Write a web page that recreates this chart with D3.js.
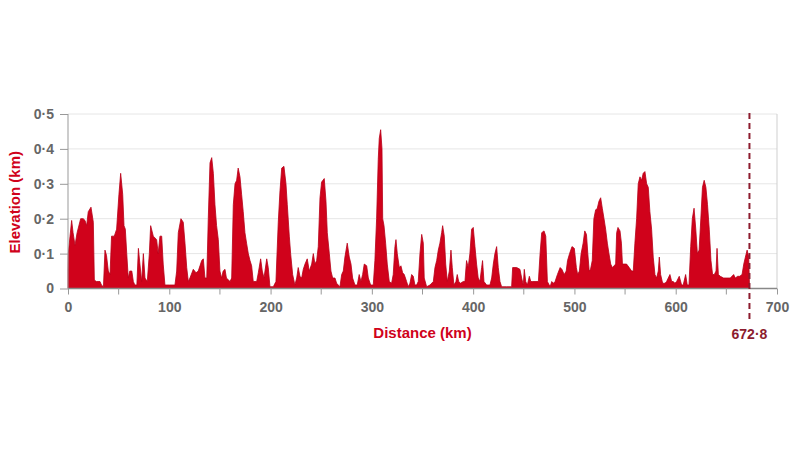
<!DOCTYPE html>
<html><head><meta charset="utf-8">
<script src="https://cdn.jsdelivr.net/npm/d3@7"></script>
<style>
html,body{margin:0;padding:0;background:#fff;}
text{font-family:"Liberation Sans",Arial,sans-serif;}
</style></head>
<body><svg id="c" width="800" height="450"></svg>
<script>
const distanceKm = [0,0.3,2,3.6,5,6.9,9,12.5,15,16.8,18.4,20,22.7,25,26,28,31.6,33,35,36.5,38,39.8,41.5,43,45.7,48,50.3,52,54,55.3,56.6,58,59.5,61,63,64.5,66,68,69.5,71,72.7,74.4,76,78.3,80.3,81.6,84.2,87.5,89,90.8,92.5,94,95.7,100,105.6,107.3,108.9,111.5,113.8,115.5,117.2,118.8,120.4,123.7,126.4,128.6,130.3,132,133.6,135.2,137,138.5,140.2,141.9,143.5,145.1,146.7,148.4,150,151.6,153.2,155,156.4,160,161.6,163.2,164.9,166.5,168,169.8,171.4,173,174.7,176.3,178,179.7,181.3,182.9,186.3,187.9,190.2,191.8,193.5,196.2,197.7,199.4,202.7,205.3,207.6,209.3,211,213.2,215.2,216.5,218.5,219.8,221.8,224,225.8,227.3,229,230.7,232.3,234,236.2,238.2,240.6,242.2,243.8,245.5,247.1,248.8,250.4,253,254.7,256,258,259.6,261.3,263.6,265.2,268.5,270.2,271.8,273.4,275.7,277.7,279.4,281,283.3,285.6,287.5,289.2,290.9,292.5,294.9,296.5,298.8,301.4,303,304.7,306.3,307.3,308.7,310,310.7,312,313.6,315.2,317.2,319.5,321.1,322.8,323.8,325.1,327.1,328.7,330.4,332,334.3,335.9,337.6,339.3,340.9,342.5,344.2,345.8,347.5,349.2,350.8,351.7,354.1,357.4,360.7,362.3,364,365.6,367.2,368.9,369.9,371.5,372.9,374.5,376.5,378.1,379.4,381,383,384.3,385.7,387.6,390.2,391.9,393.5,395.1,396.8,398.5,400.1,401.8,403.4,405,406.7,408.4,409.3,410.7,413.3,416.6,418.3,419.9,421.5,423.2,424.8,426.5,428.1,433,438,439,443,446.2,447.9,449.5,450.5,451.9,453.5,455.5,456.9,458.8,461.1,464.4,466.1,467.7,470,471.7,473.3,476,477.6,479.3,480.9,483.2,485.9,487.6,489.9,491.9,493.2,495.2,497.6,499.9,501.9,503.2,504.9,506.6,508.6,510.2,511.9,513.2,514.6,515.9,517.6,519.2,520.9,522.6,524.2,525.9,527.5,529.2,530.8,532.5,534.1,535.8,537.4,539.1,540.7,541.7,543,545,546.4,547.4,549,551.5,554.1,556.5,558.1,559.7,561.4,563,564.7,566.3,567.9,569.6,571.3,572.9,574.5,576.2,577.8,579.5,581.1,582.8,583.8,585.1,587.1,589.4,591,594.3,596,597.6,599.2,600.9,603.5,605.8,607.4,609.8,611.4,613.1,614.8,616.4,618.1,619.8,621.4,623.1,624.8,626.4,628.1,629.8,631.4,633.1,634.8,636.4,638.1,639.8,640.8,642.1,644,647.3,650.6,653.9,657.2,658.8,661.2,663.2,665.5,667.2,668.8,670.5,672.1,672.8];
const elevationKm = [0.05,0.1,0.15,0.195,0.16,0.124,0.16,0.2,0.2,0.195,0.18,0.22,0.233,0.19,0.024,0.02,0.02,0.01,0.005,0.11,0.095,0.05,0.04,0.15,0.15,0.17,0.27,0.33,0.27,0.18,0.17,0.1,0.03,0.05,0.05,0.02,0.01,0.01,0.115,0.07,0.02,0.1,0.03,0.02,0.1,0.18,0.15,0.14,0.1,0.15,0.15,0.07,0.01,0.01,0.01,0.05,0.16,0.2,0.19,0.13,0.06,0.02,0.03,0.055,0.045,0.05,0.065,0.08,0.085,0.03,0.03,0.2,0.36,0.375,0.33,0.24,0.18,0.14,0.05,0.03,0.05,0.055,0.03,0.02,0.03,0.24,0.3,0.31,0.345,0.32,0.27,0.22,0.16,0.13,0.1,0.08,0.065,0.02,0.02,0.045,0.085,0.05,0.03,0.085,0.06,0.005,0.005,0.02,0.19,0.28,0.345,0.35,0.3,0.24,0.15,0.1,0.04,0.01,0.03,0.06,0.035,0.03,0.055,0.07,0.085,0.05,0.07,0.1,0.07,0.08,0.12,0.26,0.305,0.315,0.25,0.16,0.1,0.05,0.03,0.03,0.015,0.005,0.04,0.05,0.09,0.13,0.09,0.07,0.03,0.01,0.01,0.04,0.02,0.04,0.07,0.065,0.03,0.01,0.01,0.08,0.2,0.37,0.43,0.455,0.4,0.2,0.18,0.13,0.07,0.02,0.015,0.04,0.12,0.14,0.1,0.06,0.065,0.045,0.04,0.02,0.005,0.015,0.04,0.035,0.01,0.01,0.02,0.1,0.155,0.13,0.03,0.005,0.01,0.02,0.06,0.08,0.11,0.13,0.16,0.18,0.15,0.07,0.02,0.05,0.11,0.06,0.01,0.02,0.04,0.02,0.015,0.02,0.02,0.08,0.06,0.1,0.17,0.175,0.12,0.07,0.03,0.02,0.06,0.08,0.02,0.01,0.01,0.03,0.07,0.1,0.12,0.06,0.02,0.005,0.005,0.005,0.06,0.06,0.055,0.03,0.01,0.055,0.02,0.01,0.035,0.02,0.02,0.02,0.02,0.1,0.16,0.165,0.15,0.02,0.005,0.02,0.015,0.02,0.04,0.06,0.055,0.04,0.05,0.08,0.1,0.12,0.115,0.06,0.04,0.05,0.1,0.13,0.165,0.155,0.1,0.05,0.055,0.08,0.2,0.225,0.23,0.25,0.26,0.23,0.2,0.17,0.13,0.1,0.07,0.06,0.065,0.07,0.16,0.175,0.165,0.13,0.07,0.07,0.07,0.06,0.05,0.05,0.13,0.2,0.3,0.32,0.31,0.33,0.335,0.3,0.29,0.22,0.17,0.09,0.04,0.03,0.05,0.09,0.04,0.015,0.015,0.02,0.04,0.02,0.02,0.015,0.02,0.035,0.01,0.01,0.04,0.01,0.01,0.12,0.2,0.23,0.17,0.1,0.11,0.2,0.29,0.31,0.29,0.24,0.17,0.08,0.04,0.04,0.05,0.115,0.04,0.035,0.03,0.03,0.03,0.04,0.03,0.035,0.035,0.04,0.07,0.09,0.11,0.09,0.01];
const yTicks = [0,0.1,0.2,0.3,0.4,0.5];
const xTicks = [0,100,200,300,400,500,600,700];
const xMinorTicks = [50,150,250,350,450,550,650];
const routeEnd = 672.8;

const svg = d3.select("#c");
const L = 68, R = 777, T = 114, B = 288.5;
const x = d3.scaleLinear().domain([0,700]).range([L,R]);
const y = d3.scaleLinear().domain([0,0.5]).range([B,T]);
const fmt = v => v === 0 ? "0" : d3.format(".1f")(v).replace(".", "·");

// grid
svg.append("g").selectAll("line").data(yTicks.filter(d=>d>0)).join("line")
  .attr("x1",L).attr("x2",R).attr("y1",d=>y(d)).attr("y2",d=>y(d))
  .attr("stroke","#e6e6e6").attr("stroke-width",1);
svg.append("line").attr("x1",R).attr("x2",R).attr("y1",T).attr("y2",B)
  .attr("stroke","#cfcfcf").attr("stroke-width",1);

const pts = distanceKm.map((d,i)=>({d, e: elevationKm[i]}));
const area = d3.area().x(p=>x(p.d)).y0(y(0)).y1(p=>y(p.e));
svg.append("path").datum(pts).attr("d",area)
  .attr("fill","#d0021b").attr("stroke","#b80018").attr("stroke-width",0.8);

// y axis
const ya = svg.append("g").attr("transform",`translate(${L},0)`)
  .call(d3.axisLeft(y).tickValues(yTicks).tickFormat(fmt).tickSize(8).tickPadding(6));
ya.select(".domain").attr("stroke","#999").attr("d",`M0,${T}V${B}`);
ya.selectAll(".tick line").attr("stroke","#999");
ya.selectAll("text").attr("fill","#666").attr("font-size",14).attr("font-weight","bold")
  .attr("font-family","'Liberation Sans',Arial,sans-serif");

// x axis
const xa = svg.append("g").attr("transform",`translate(0,${B})`)
  .call(d3.axisBottom(x).tickValues(xTicks).tickFormat(d3.format("d")).tickSize(6).tickPadding(8));
xa.select(".domain").attr("stroke","#888").attr("stroke-width",1.5).attr("d",`M${L},0H${R}`);
xa.selectAll(".tick line").attr("stroke","#999");
xa.selectAll("text").attr("fill","#666").attr("font-size",14).attr("font-weight","bold")
  .attr("font-family","'Liberation Sans',Arial,sans-serif");
svg.append("g").selectAll("line").data(xMinorTicks).join("line")
  .attr("x1",d=>x(d)).attr("x2",d=>x(d)).attr("y1",B).attr("y2",B+6).attr("stroke","#999");

// route end marker
svg.append("line").attr("x1",x(routeEnd)).attr("x2",x(routeEnd))
  .attr("y1",T-1).attr("y2",322)
  .attr("stroke","#8c1c2e").attr("stroke-width",2).attr("stroke-dasharray","6,4");
svg.append("text").attr("x",x(routeEnd)).attr("y",339).attr("text-anchor","middle")
  .attr("fill","#8c1c2e").attr("font-size",14).attr("font-weight","bold")
  .text(d3.format(".1f")(routeEnd).replace(".", "·"));

// titles
svg.append("text").attr("x",(L+R)/2).attr("y",337.5).attr("text-anchor","middle")
  .attr("fill","#d0021b").attr("font-size",15).attr("font-weight","bold").text("Distance (km)");
svg.append("text").attr("transform",`translate(20,${(T+B)/2+1}) rotate(-90)`).attr("text-anchor","middle")
  .attr("fill","#d0021b").attr("font-size",15).attr("font-weight","bold").text("Elevation (km)");
</script></body></html>
